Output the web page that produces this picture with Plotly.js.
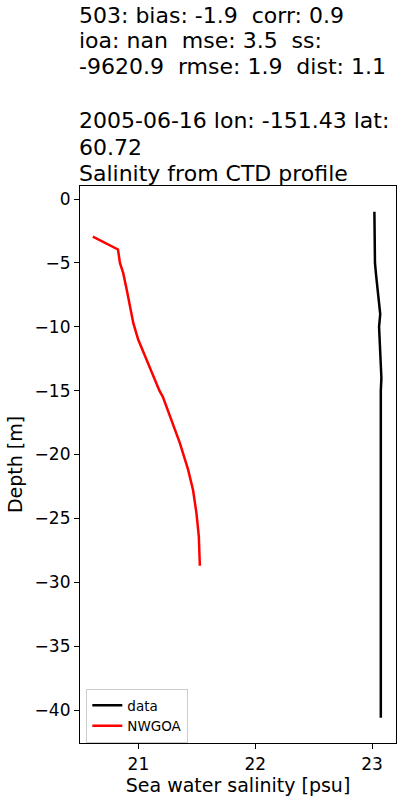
<!DOCTYPE html>
<html><head><meta charset="utf-8">
<script src="https://cdn.plot.ly/plotly-3.0.1.min.js"></script>
<style>body{margin:0;padding:0;}#chart{width:400px;height:800px;}</style>
</head><body><div id="chart"></div>
<script>
const dataDepth = [-1, -2, -3, -4, -5, -6, -7, -8, -9, -10, -11, -12, -13, -14, -15, -17, -20, -24, -25, -28, -30, -35, -40.6];
const dataSal   = [23.02, 23.02, 23.02, 23.02, 23.025, 23.035, 23.045, 23.055, 23.07, 23.06, 23.065, 23.07, 23.075, 23.08, 23.075, 23.075, 23.075, 23.075, 23.07, 23.075, 23.075, 23.075, 23.075];
const modelDepth = [-2.95, -3.95, -5.0, -5.8, -7.1, -8.4, -9.7, -11.0, -12.3, -13.9, -15.0, -15.5, -17.0, -19.1, -21.2, -22.8, -24.6, -26.4, -28.7];
const modelSal   = [20.61, 20.825, 20.842, 20.87, 20.90, 20.927, 20.956, 20.998, 21.056, 21.127, 21.18, 21.21, 21.269, 21.355, 21.426, 21.468, 21.497, 21.517, 21.526];
const seriesNames = ['data', 'NWGOA'];
const titleLines = ['503: bias: -1.9  corr: 0.9', 'ioa: nan  mse: 3.5  ss:', '-9620.9  rmse: 1.9  dist: 1.1', '2005-06-16 lon: -151.43 lat:', '60.72', 'Salinity from CTD profile'];
const titleBaselines = [22.7, 48.3, 74, 128.3, 155, 181];
const yTicks = [0, -5, -10, -15, -20, -25, -30, -35, -40];
const xTicks = [21, 22, 23];

const font = 'DejaVu Sans, sans-serif';
const plotTop = 186, plotH = 800 - 186 - 57;
const traces = [
  {x: dataSal, y: dataDepth, mode: 'lines', name: seriesNames[0], line: {color: 'black', width: 2.5}},
  {x: modelSal, y: modelDepth, mode: 'lines', name: seriesNames[1], line: {color: 'red', width: 2.5}}
];
const annotations = titleLines.map((t, i) => ({
  text: t.replace(/  /g, ' \u00a0'), xref: 'paper', yref: 'paper', x: 0, xanchor: 'left', xshift: -3,
  y: 1 + (plotTop - (titleBaselines[i] - 7.7)) / plotH, yanchor: 'middle',
  showarrow: false, font: {family: font, size: 22, color: 'black'}
}));
const layout = {
  width: 400, height: 800,
  margin: {l: 80, r: 4, t: plotTop, b: 57},
  paper_bgcolor: 'white', plot_bgcolor: 'white',
  font: {family: font, color: 'black'},
  showlegend: true,
  legend: {x: 0.02, y: 0.0, xanchor: 'left', yanchor: 'bottom', bgcolor: 'rgba(255,255,255,0.8)',
           bordercolor: '#cccccc', borderwidth: 1, font: {family: font, size: 13.5}, itemwidth: 30},
  annotations: annotations,
  xaxis: {range: [20.5, 23.205], tickvals: xTicks, ticks: 'outside', ticklen: 5, tickwidth: 1, tickcolor: 'black',
          showline: true, linecolor: 'black', linewidth: 1.2, mirror: true, showgrid: false, zeroline: false,
          tickfont: {family: font, size: 17},
          title: {text: 'Sea water salinity [psu]', font: {family: font, size: 19}, standoff: 6}},
  yaxis: {range: [-42.58, 1.02], tickvals: yTicks, ticks: 'outside', ticklen: 5, tickwidth: 1, tickcolor: 'black',
          showline: true, linecolor: 'black', linewidth: 1.2, mirror: true, showgrid: false, zeroline: false,
          tickfont: {family: font, size: 17},
          title: {text: 'Depth [m]', font: {family: font, size: 19}, standoff: 6}}
};
Plotly.newPlot('chart', traces, layout, {displayModeBar: false});
</script></body></html>
